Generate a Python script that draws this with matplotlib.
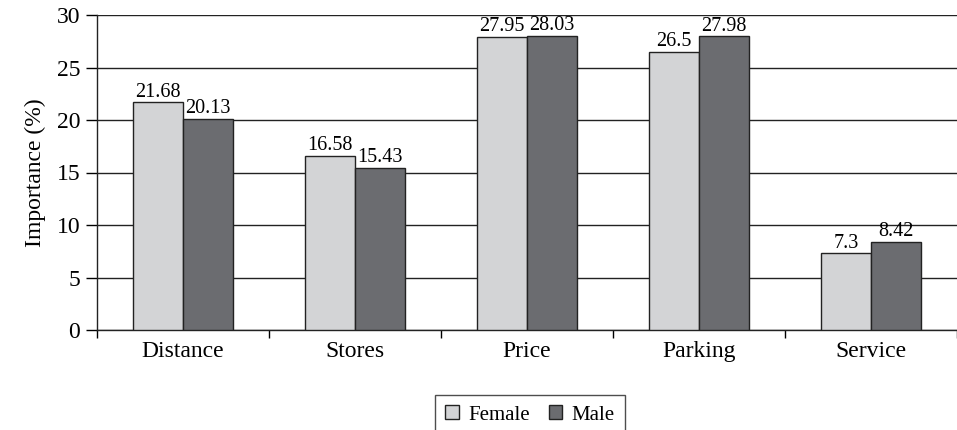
import numpy as np
import matplotlib
matplotlib.use("Agg")
import matplotlib.pyplot as plt

plt.rcParams['font.family'] = ['Liberation Serif', 'DejaVu Serif']

categories = ["Distance", "Stores", "Price", "Parking", "Service"]
female = [21.68, 16.58, 27.95, 26.5, 7.3]
male = [20.13, 15.43, 28.03, 27.98, 8.42]
female_labels = ["21.68", "16.58", "27.95", "26.5", "7.3"]
male_labels = ["20.13", "15.43", "28.03", "27.98", "8.42"]

fig = plt.figure(figsize=(9.57, 4.30), dpi=100)
ax = fig.add_axes([97 / 957, 1 - 330 / 430, 1 - 97 / 957, 315 / 430])

x = np.arange(len(categories))
w = 0.289
b1 = ax.bar(x - w / 2, female, w, color='#d3d4d6', edgecolor='#222222',
            linewidth=1.0, label="Female", zorder=3)
b2 = ax.bar(x + w / 2, male, w, color='#6b6c70', edgecolor='#222222',
            linewidth=1.0, label="Male", zorder=3)
ax.bar_label(b1, labels=female_labels, padding=0.5, fontsize=14.5)
ax.bar_label(b2, labels=male_labels, padding=0.5, fontsize=14.5)

ax.set_xlim(-0.5, 4.43)
ax.set_ylim(0, 30)
ax.set_yticks(range(0, 31, 5))
ax.yaxis.grid(True, color='#222222', linewidth=1.0, zorder=0)
ax.set_xticks(x)
ax.set_xticklabels(categories)
ax.set_xticks(np.arange(-0.5, 5, 1), minor=True)
ax.tick_params(axis='x', which='major', length=0, pad=8, labelsize=17)
ax.tick_params(axis='x', which='minor', length=6, direction='out', width=1)
ax.tick_params(axis='y', length=8, direction='out', width=1, labelsize=17,
               pad=4)
ax.set_ylabel("Importance (%)", fontsize=17, labelpad=8)
for s in ['top', 'right']:
    ax.spines[s].set_visible(False)
for s in ['left', 'bottom']:
    ax.spines[s].set_color('#222222')
    ax.spines[s].set_linewidth(1.0)

fig.legend(loc='upper center', bbox_to_anchor=(530 / 957, 1 - 395 / 430),
           ncol=2, fontsize=15, frameon=True, fancybox=False,
           edgecolor='#222222', handlelength=0.65, handleheight=0.65,
           handletextpad=0.45, columnspacing=0.9, borderpad=0.5,
           borderaxespad=0)

fig.savefig("out.png", dpi=100)
